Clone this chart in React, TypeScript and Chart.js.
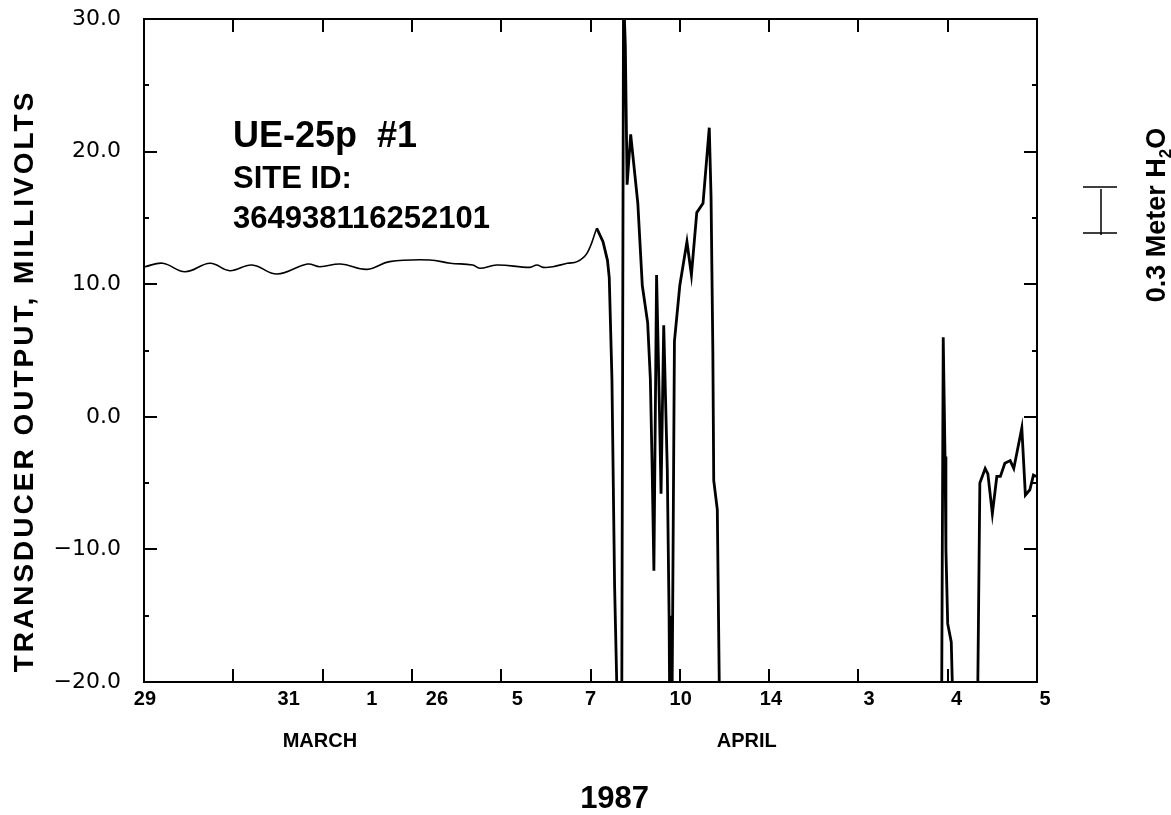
import React, { useEffect, useRef } from 'react';
import { Chart, registerables } from 'chart.js';

Chart.register(...registerables);

// x is measured in tick divisions of the time axis (0 .. 10)
const quietX = [0.01, 0.21, 0.46, 0.74, 0.96, 1.21, 1.49, 1.83, 1.97, 2.2, 2.5, 2.75, 3.2, 3.43, 3.68, 3.76, 3.95, 4.32, 4.4, 4.47, 4.58, 4.74, 4.85, 4.96, 5.07];
const quietY = [11.32, 11.58, 10.94, 11.58, 11.02, 11.45, 10.77, 11.52, 11.32, 11.52, 11.12, 11.7, 11.83, 11.58, 11.45, 11.2, 11.45, 11.27, 11.45, 11.27, 11.32, 11.58, 11.7, 12.33, 14.22];

const activeX = [5.07, 5.14, 5.19, 5.21, 5.24, 5.27, 5.32, 5.35, 5.37, 5.39, 5.41, 5.45, 5.53, 5.58, 5.64, 5.67, 5.69, 5.71, 5.74, 5.77, 5.79, 5.82, 5.86, 5.88, 5.89, 5.91, 5.94, 6.0, 6.08, 6.13, 6.19, 6.26, 6.33, 6.35, 6.37, 6.38, 6.42, 6.45, 7.5, 8.93, 8.95, 8.97, 8.98, 9.0, 9.04, 9.07, 9.2, 9.33, 9.36, 9.42, 9.45, 9.5, 9.55, 9.59, 9.64, 9.7, 9.74, 9.83, 9.87, 9.92, 9.96, 9.99];
const activeY: (number | null)[] = [14.22, 13.2, 11.8, 10.5, 2.9, -12.8, -28, -22, 32, 28, 17.5, 21.3, 16.1, 9.9, 7.1, 2.9, -3.7, -11.6, 10.7, 1.2, -5.8, 6.9, -4, -15, -25, -25, 5.7, 9.9, 13.2, 10.7, 15.4, 16.1, 21.8, 16.6, 5.0, -4.8, -7.0, -25, null, -25, 6.0, -3, -10, -15.6, -17, -25, null, -25, -5.0, -3.9, -4.3, -7.3, -4.5, -4.5, -3.5, -3.3, -3.9, -0.85, -5.9, -5.5, -4.4, -4.5];

const yMin = -20;
const yMax = 30;
const yMajorStep = 10;
const yMinorStep = 5;
const xTickMarks = [1, 2, 3, 4, 5, 6, 7, 8, 9];
const dayLabels = ['29', '31', '1', '26', '5', '7', '10', '14', '3', '4', '5'];
const dayLabelPos = [0.01, 1.62, 2.55, 3.28, 4.18, 5.0, 6.01, 7.02, 8.12, 9.1, 10.09];
const monthLabels = ['MARCH', 'APRIL'];
const monthLabelPos = [1.97, 6.75];
const yearLabel = '1987';
const yearLabelPos = 5.27;
const yTitle = 'TRANSDUCER OUTPUT, MILLIVOLTS';
const wellName = 'UE-25p  #1';
const siteLabel = 'SITE ID:';
const siteId = '364938116252101';

const framePlugin = {
  id: 'framePlugin',
  afterDatasetsDraw(chart: any) {
    const { ctx, chartArea: a, scales } = chart;
    const xs = scales.x;
    const ys = scales.y;
    ctx.save();
    ctx.strokeStyle = '#000';
    ctx.lineWidth = 2;
    ctx.strokeRect(a.left, a.top, a.right - a.left, a.bottom - a.top);
    ctx.beginPath();
    for (let v = yMin + yMinorStep; v < yMax; v += yMinorStep) {
      const y = Math.round(ys.getPixelForValue(v));
      const len = v % yMajorStep === 0 ? 13 : 5;
      ctx.moveTo(a.left, y);
      ctx.lineTo(a.left + len, y);
      ctx.moveTo(a.right, y);
      ctx.lineTo(a.right - len, y);
    }
    xTickMarks.forEach((t) => {
      const x = Math.round(xs.getPixelForValue(t));
      ctx.moveTo(x, a.top);
      ctx.lineTo(x, a.top + 13);
      ctx.moveTo(x, a.bottom);
      ctx.lineTo(x, a.bottom - 13);
    });
    ctx.stroke();
    ctx.restore();
  },
  afterDraw(chart: any) {
    const { ctx, scales } = chart;
    const xs = scales.x;
    ctx.save();
    ctx.fillStyle = '#000';
    ctx.textAlign = 'center';
    ctx.textBaseline = 'middle';
    ctx.font = 'bold 20px "Liberation Sans"';
    dayLabels.forEach((l, i) => {
      ctx.fillText(l, xs.getPixelForValue(dayLabelPos[i]), 699);
    });
    monthLabels.forEach((l, i) => {
      ctx.fillText(l, xs.getPixelForValue(monthLabelPos[i]), 741);
    });
    ctx.font = 'bold 31px "Liberation Sans"';
    ctx.fillText(yearLabel, xs.getPixelForValue(yearLabelPos), 799);

    // y title
    ctx.save();
    ctx.translate(25, 381);
    ctx.rotate(-Math.PI / 2);
    ctx.font = 'bold 28px "Liberation Sans"';
    (ctx as any).letterSpacing = '3px';
    ctx.fillText(yTitle, 0, 0);
    ctx.restore();

    // annotation
    ctx.textAlign = 'left';
    ctx.textBaseline = 'alphabetic';
    ctx.font = 'bold 36px "Liberation Sans"';
    ctx.fillText(wellName, 233, 147);
    ctx.font = 'bold 31px "Liberation Sans"';
    ctx.fillText(siteLabel, 233, 188);
    ctx.fillText(siteId, 233, 228);

    // scale bar
    ctx.strokeStyle = '#000';
    ctx.lineWidth = 1.5;
    ctx.beginPath();
    ctx.moveTo(1083, 187);
    ctx.lineTo(1117, 187);
    ctx.moveTo(1083, 233);
    ctx.lineTo(1117, 233);
    ctx.moveTo(1101, 189);
    ctx.lineTo(1101, 235);
    ctx.stroke();

    // right label with subscript
    ctx.save();
    ctx.translate(1155, 215);
    ctx.rotate(-Math.PI / 2);
    const mainFont = 'bold 27px "Liberation Sans"';
    const subFont = 'bold 17px "Liberation Sans"';
    ctx.font = mainFont;
    const p1 = '0.3 Meter H';
    const w1 = ctx.measureText(p1).width;
    const wO = ctx.measureText('O').width;
    ctx.font = subFont;
    const w2 = ctx.measureText('2').width;
    const total = w1 + w2 + wO;
    let x = -total / 2;
    ctx.font = mainFont;
    ctx.fillText(p1, x, 10);
    x += w1;
    ctx.font = subFont;
    ctx.fillText('2', x, 16);
    x += w2;
    ctx.font = mainFont;
    ctx.fillText('O', x, 10);
    ctx.restore();

    ctx.restore();
  },
};

export default function App() {
  const ref = useRef<HTMLCanvasElement | null>(null);
  useEffect(() => {
    if (!ref.current) return;
    const chart = new Chart(ref.current, {
      type: 'line',
      data: {
        datasets: [
          {
            data: quietX.map((x, i) => ({ x, y: quietY[i] })),
            borderColor: '#000',
            borderWidth: 1.6,
            tension: 0.4,
            pointRadius: 0,
          },
          {
            data: activeX.map((x, i) => ({ x, y: activeY[i] })) as any,
            borderColor: '#000',
            borderWidth: 2.8,
            tension: 0,
            pointRadius: 0,
            spanGaps: false,
          },
        ],
      },
      options: {
        animation: false,
        responsive: false,
        maintainAspectRatio: false,
        layout: { padding: { top: 19, right: 134, left: 0, bottom: 0 } },
        plugins: { legend: { display: false }, tooltip: { enabled: false }, title: { display: false } },
        scales: {
          x: {
            type: 'linear',
            min: 0,
            max: 10,
            ticks: { display: false },
            grid: { display: false, drawTicks: false },
            border: { display: false },
            afterFit: (s: any) => {
              s.height = 133;
              s.paddingLeft = 0;
              s.paddingRight = 0;
              s.paddingTop = 0;
              s.paddingBottom = 0;
            },
          },
          y: {
            type: 'linear',
            min: yMin,
            max: yMax,
            ticks: {
              stepSize: yMajorStep,
              padding: 23,
              color: '#000',
              font: { family: 'DejaVu Sans', size: 22 },
              callback: (v: any) => (v < 0 ? '\u2212' : '') + Math.abs(Number(v)).toFixed(1),
            },
            grid: { display: false, drawTicks: false },
            border: { display: false },
            afterFit: (s: any) => {
              s.width = 144;
              s.paddingTop = 0;
              s.paddingBottom = 0;
              s.paddingLeft = 0;
              s.paddingRight = 0;
            },
          },
        },
      },
      plugins: [framePlugin],
    });
    return () => chart.destroy();
  }, []);
  return (
    <div style={{ position: 'fixed', left: 0, top: 0, width: 1171, height: 815, background: '#fff' }}>
      <canvas ref={ref} width={1171} height={815} style={{ width: 1171, height: 815, display: 'block' }} />
    </div>
  );
}
